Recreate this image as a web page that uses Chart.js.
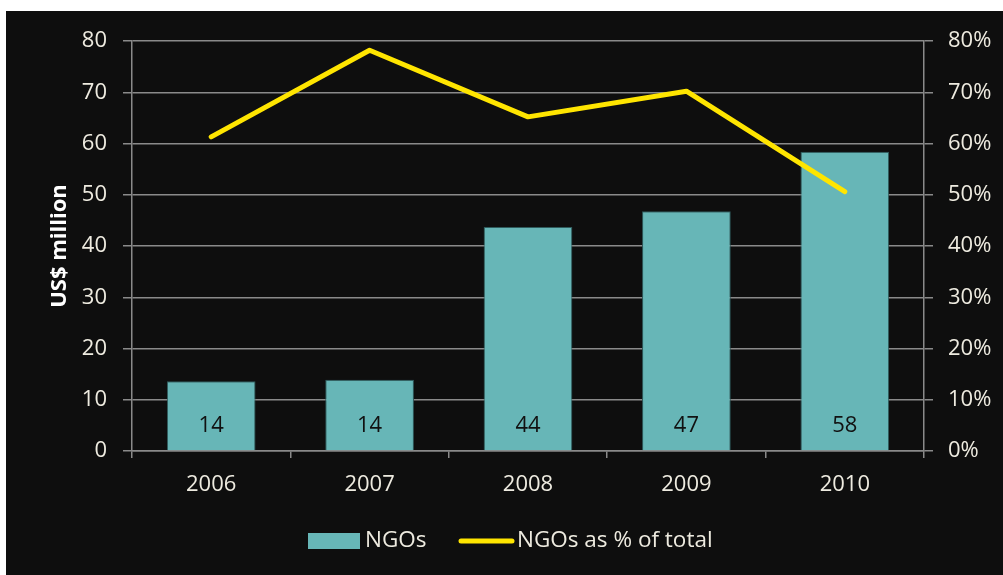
<!DOCTYPE html>
<html lang="en">
<head>
  <meta charset="UTF-8">
  <title>NGOs funding</title>
  <script src="https://cdn.jsdelivr.net/npm/chart.js"></script>
  <style>
    html, body { margin: 0; padding: 0; background: #ffffff; }
    .chart-box {
      position: absolute;
      left: 6px;
      top: 11px;
      width: 997px;
      height: 564px;
      background: #0e0e0e;
    }
  </style>
</head>

<body>
  <div class="chart-box">
    <canvas id="ngoChart" width="997" height="564"></canvas>
  </div>

  <script>
    const years = ['2006', '2007', '2008', '2009', '2010'];
    const ngoMillions = [13.6, 13.9, 43.7, 46.8, 58.4];
    const ngoShare = [61.3, 78.2, 65.2, 70.2, 50.6];
    const leftTicks = [0, 10, 20, 30, 40, 50, 60, 70, 80];
    const rightTicks = [0, 10, 20, 30, 40, 50, 60, 70, 80];

    const textColor = '#eeebe0';
    const gridColor = '#8a8a8a';
    const fontFamily = '"Open Sans", "Noto Sans", sans-serif';

    // values written in the lower part of each bar
    const barLabels = {
      id: 'barLabels',
      afterDatasetsDraw(chart) {
        const ctx = chart.ctx;
        const meta = chart.getDatasetMeta(0);
        ctx.save();
        ctx.fillStyle = '#111111';
        ctx.font = '22px ' + fontFamily;
        ctx.textAlign = 'center';
        ctx.textBaseline = 'middle';
        meta.data.forEach((bar, i) => {
          ctx.fillText(Math.round(ngoMillions[i]), bar.x, bar.base - 25);
        });
        ctx.restore();
      }
    };

    // legend drawn by hand: a swatch for the bars, a thick stroke for the line
    const bottomLegend = {
      id: 'bottomLegend',
      afterDraw(chart) {
        const ctx = chart.ctx;
        const ds = chart.data.datasets;
        const y = 530;
        ctx.save();
        ctx.font = '22.5px ' + fontFamily;
        ctx.textBaseline = 'middle';
        ctx.fillStyle = ds[0].backgroundColor;
        ctx.fillRect(302, y - 8, 52, 16);
        ctx.fillStyle = textColor;
        ctx.fillText(ds[0].label, 359, y);

        ctx.strokeStyle = ds[1].borderColor;
        ctx.lineWidth = 5;
        ctx.lineCap = 'round';
        ctx.beginPath();
        ctx.moveTo(455, y);
        ctx.lineTo(506, y);
        ctx.stroke();
        ctx.fillStyle = textColor;
        ctx.fillText(ds[1].label, 511, y);
        ctx.restore();
      }
    };

    const ctx = document.getElementById('ngoChart').getContext('2d');
    new Chart(ctx, {
      data: {
        labels: years,
        datasets: [
          {
            type: 'bar',
            label: 'NGOs',
            data: ngoMillions,
            yAxisID: 'y',
            backgroundColor: '#67b6b7',
            borderColor: '#2e5a5b',
            borderWidth: 1,
            categoryPercentage: 1,
            barPercentage: 0.56,
            order: 1
          },
          {
            type: 'line',
            label: 'NGOs as % of total',
            data: ngoShare,
            yAxisID: 'yRight',
            borderColor: '#ffe500',
            borderWidth: 5,
            borderCapStyle: 'round',
            borderJoinStyle: 'round',
            pointRadius: 0,
            tension: 0,
            order: 0
          }
        ]
      },
      options: {
        responsive: false,
        animation: false,
        layout: { padding: { top: 30, left: 0, right: 0, bottom: 0 } },
        plugins: {
          legend: { display: false },
          tooltip: { enabled: false }
        },
        scales: {
          x: {
            offset: true,
            afterFit: s => { s.height = 124; },
            grid: {
              offset: true,
              drawOnChartArea: false,
              color: gridColor,
              lineWidth: 1.5,
              tickLength: 7
            },
            border: { color: gridColor, width: 1.5 },
            ticks: {
              color: textColor,
              font: { family: fontFamily, size: 22 },
              padding: 14
            }
          },
          y: {
            position: 'left',
            min: 0,
            max: 80,
            afterFit: s => { s.width = 126; },
            afterBuildTicks: s => { s.ticks = leftTicks.map(v => ({ value: v })); },
            grid: { color: gridColor, lineWidth: 1.5, tickLength: 9 },
            border: { color: gridColor, width: 1.5 },
            ticks: {
              color: textColor,
              font: { family: fontFamily, size: 22 },
              padding: 16
            },
            title: {
              display: true,
              text: 'US$ million',
              color: '#ffffff',
              font: { family: fontFamily, size: 22, weight: 'bold' },
              padding: { top: 41, bottom: 0 }
            }
          },
          yRight: {
            position: 'right',
            min: 0,
            max: 80,
            afterFit: s => { s.width = 79; },
            afterBuildTicks: s => { s.ticks = rightTicks.map(v => ({ value: v })); },
            grid: {
              drawOnChartArea: false,
              color: gridColor,
              lineWidth: 1.5,
              tickLength: 9
            },
            border: { color: gridColor, width: 1.5 },
            ticks: {
              color: textColor,
              font: { family: fontFamily, size: 22 },
              padding: 15,
              callback: v => v + '%'
            }
          }
        }
      },
      plugins: [barLabels, bottomLegend]
    });
  </script>
</body>
</html>
